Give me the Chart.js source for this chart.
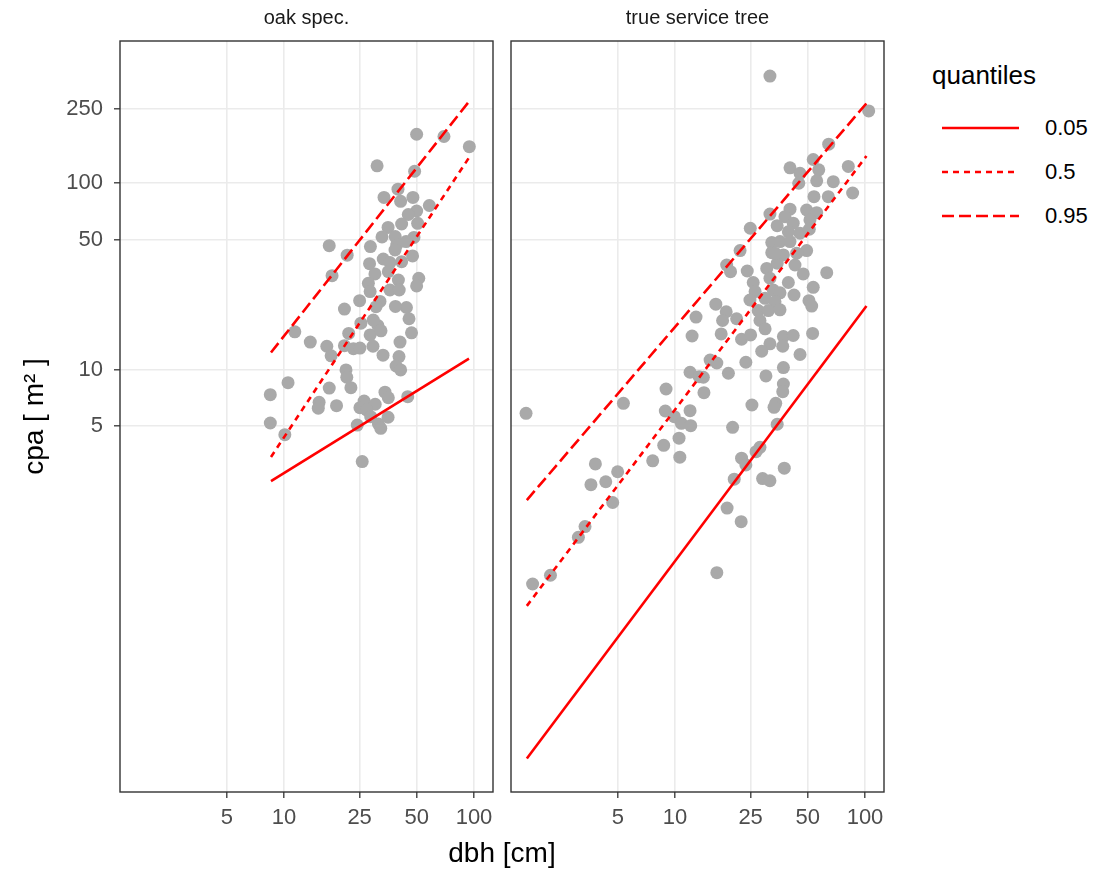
<!DOCTYPE html>
<html>
<head>
<meta charset="utf-8">
<script src="https://cdn.jsdelivr.net/npm/chart.js@4.4.1/dist/chart.umd.min.js"></script>
<style>
  html, body { margin: 0; padding: 0; background: #ffffff; }
  #wrap { position: relative; width: 1100px; height: 870px; overflow: hidden;
          font-family: 'Liberation Sans', Arial, sans-serif; background: #fff; }
  canvas { position: absolute; top: 0; }
  #xtitle { position: absolute; left: 120px; width: 764px; top: 834px; height: 38px;
            line-height: 38px; text-align: center; font-size: 28px; color: #000; }
  #legTitle { position: absolute; left: 932px; top: 58px; font-size: 26px; line-height: 34px; color: #000; }
  .legRow { position: absolute; left: 940px; width: 160px; height: 44px; }
  .legRow svg { position: absolute; left: 0; top: 0; }
  .legRow span { position: absolute; left: 105px; top: 0; line-height: 44px; font-size: 22px; color: #000; }
</style>
</head>
<body>
<div id="wrap">
  <canvas id="left" width="500" height="870" style="left:0px"></canvas>
  <canvas id="right" width="395" height="870" style="left:500px"></canvas>
  <div id="xtitle">dbh [cm]</div>
  <div id="legTitle">quantiles</div>
  <div id="legRows"></div>
</div>
<script>
// ---------- data ----------
const PANELS = ['oak spec.', 'true service tree'];
const X_TICKS = [5, 10, 25, 50, 100];
const Y_TICKS = [5, 10, 50, 100, 250];
const QUANTILES = ['0.05', '0.5', '0.95'];

// oak spec. observations: dbh [cm], cpa [m2]
const OAK_DBH = [49.9, 69.5, 94.5, 30.9, 48.7, 39.8, 33.6, 41.1, 47.7, 58.2,
  49.9, 45.1, 50.5, 41.6, 35.3, 32.8, 38.5, 48.3, 43.9, 39.2,
  17.3, 28.5, 21.5, 33.3, 47.5, 28.2, 36.1, 41.6, 38.4, 30.1,
  17.9, 51.2, 49.9, 27.8, 35.4, 40.0, 28.4, 36.1, 40.4, 25.0,
  20.8, 32.0, 44.1, 38.6, 30.5, 45.5, 46.9, 25.4, 31.2, 29.5,
  28.4, 32.4, 21.9, 11.4, 13.75, 16.8, 17.7, 20.8, 23.2, 25.1,
  29.4, 33.2, 40.8, 40.3, 38.9, 41.1, 21.2, 21.4, 22.5, 17.3,
  10.5, 8.47, 8.47, 10.1, 15.3, 15.15, 18.9, 34.0, 35.4, 44.8,
  26.4, 25.1, 30.2, 27.2, 28.6, 24.3, 31.4, 35.3, 32.3, 25.8];
const OAK_CPA = [183, 178, 157, 124, 116, 93, 84, 80, 84, 76,
  71, 68, 61, 60.5, 58, 51.6, 51.8, 51.3, 48.7, 46.7,
  46.3, 45.8, 41.2, 39.3, 40.8, 37.1, 37.6, 38.0, 43.9, 32.7,
  32.0, 31.0, 28.2, 29.1, 33.6, 30.3, 26.3, 26.8, 26.8, 23.5,
  21.2, 23.3, 21.6, 21.9, 21.8, 18.8, 15.8, 17.8, 17.3, 18.5,
  15.4, 16.2, 15.7, 16.0, 14.1, 13.4, 11.9, 13.5, 13.0, 13.1,
  13.4, 12.0, 14.1, 11.8, 10.5, 10.0, 10.0, 9.14, 8.04, 8.0,
  8.55, 7.37, 5.20, 4.50, 6.71, 6.24, 6.44, 7.6, 7.1, 7.19,
  6.82, 6.28, 6.55, 6.11, 5.62, 5.07, 5.14, 5.58, 4.87, 3.23];

// true service tree observations
const SERVICE_DBH = [1.644, 5.35, 8.97, 12.3, 12.9, 12.0, 13.4, 8.89, 9.92, 12.0,
  10.8, 12.1, 10.5, 8.72, 7.63, 10.6, 3.81, 4.99, 3.61, 4.32,
  4.70, 3.36, 3.10, 2.21, 1.78, 16.6, 31.6, 104.6, 64.4, 53.4,
  40.3, 45.5, 57.1, 55.7, 81.7, 68.1, 86.1, 44.8, 53.9, 64.1,
  31.6, 40.3, 49.3, 55.7, 37.9, 34.5, 41.9, 51.3, 24.9, 32.3,
  39.5, 45.5, 50.9, 35.7, 40.3, 22.0, 32.3, 49.3, 37.2, 43.7,
  18.7, 19.6, 24.0, 30.4, 34.5, 33.6, 42.8, 47.3, 62.9, 25.8,
  31.6, 39.5, 53.4, 26.4, 32.9, 35.7, 42.3, 24.8, 29.8, 33.6,
  50.7, 52.4, 16.4, 18.6, 17.8, 21.1, 27.4, 31.0, 35.7, 28.0,
  29.8, 17.5, 22.4, 25.0, 37.2, 41.9, 53.0, 31.6, 36.9, 28.6,
  45.5, 15.3, 16.6, 23.6, 37.2, 14.1, 19.1, 30.1, 37.2, 36.9,
  14.2, 25.4, 33.9, 33.2, 20.1, 34.5, 28.0, 26.7, 22.4, 23.6,
  37.6, 20.5, 28.9, 31.6, 18.8, 22.3];
const SERVICE_CPA = [5.86, 6.63, 7.91, 15.2, 19.2, 9.72, 9.21, 6.03, 5.62, 6.05,
  5.18, 5.03, 4.31, 3.95, 3.26, 3.41, 3.14, 2.85, 2.43, 2.52,
  1.95, 1.45, 1.27, 0.795, 0.714, 0.821, 375, 244, 162, 134,
  121, 113, 118, 103, 123, 102, 88.7, 100, 84.8, 84.8,
  68.4, 72.6, 71.9, 69.6, 66.2, 59.3, 61.1, 63.6, 57.4, 48.1,
  55.0, 54.0, 56.7, 48.7, 48.7, 43.6, 42.5, 43.6, 41.3, 42.2,
  36.5, 33.6, 33.9, 35.0, 37.3, 42.2, 36.5, 32.7, 33.2, 29.4,
  31.0, 29.4, 27.7, 26.3, 26.8, 25.9, 25.2, 23.7, 24.2, 23.2,
  23.5, 22.0, 22.5, 20.5, 18.4, 18.8, 20.8, 20.8, 21.0, 18.4,
  16.6, 15.6, 14.6, 15.4, 15.1, 15.3, 15.7, 13.8, 13.4, 12.6,
  12.1, 11.3, 10.9, 11.0, 10.3, 9.14, 9.6, 9.29, 8.41, 7.65,
  7.56, 6.49, 6.63, 6.31, 4.93, 5.12, 3.85, 3.65, 3.37, 3.10,
  2.98, 2.60, 2.62, 2.55, 1.82, 1.54];

// fitted quantile lines (endpoints at the data range of each panel)
const OAK_LINE_DBH = [8.54, 94.1];
const OAK_Q05 = [2.54, 11.5];
const OAK_Q50 = [3.42, 137];
const OAK_Q95 = [12.4, 274];
const SERVICE_LINE_DBH = [1.66, 101.8];
const SERVICE_Q05 = [0.083, 22.0];
const SERVICE_Q50 = [0.545, 140];
const SERVICE_Q95 = [2.01, 268];

// axis ranges (log scales, shared by both panels)
const X_MIN = 1.37, X_MAX = 125.9;
const Y_MIN = 0.0549, Y_MAX = 578;

// ---------- styles ----------
const RED = '#FF0000';
const DASHES = [[], [6, 5], [12, 5]];
const FONT = "'Liberation Sans', Arial, sans-serif";
Chart.defaults.font.family = FONT;

const panelBorder = {
  id: 'panelBorder',
  afterDraw(chart) {
    const { ctx, chartArea: a } = chart;
    ctx.save();
    ctx.strokeStyle = '#333333';
    ctx.lineWidth = 1.4;
    ctx.strokeRect(a.left, a.top, a.right - a.left, a.bottom - a.top);
    ctx.restore();
  }
};

function toXY(xs, ys) { return xs.map((x, i) => ({ x: x, y: ys[i] })); }

function makePanel(id, title, dbh, cpa, lineDbh, quants, showY) {
  const datasets = [{
    label: 'obs',
    data: toXY(dbh, cpa),
    backgroundColor: '#A9A9A9',
    borderWidth: 0,
    pointRadius: 6.5,
    pointHoverRadius: 6.5,
    order: 2
  }];
  quants.forEach((q, k) => {
    datasets.push({
      label: QUANTILES[k],
      data: toXY(lineDbh, q),
      showLine: true,
      borderColor: RED,
      backgroundColor: RED,
      borderWidth: 2.6,
      borderDash: DASHES[k],
      pointRadius: 0,
      order: 1
    });
  });
  return new Chart(document.getElementById(id), {
    type: 'scatter',
    data: { datasets },
    plugins: [panelBorder],
    options: {
      responsive: false,
      animation: false,
      devicePixelRatio: 1,
      layout: { padding: { left: 0, top: 0, bottom: 0, right: showY ? 7 : 11 } },
      plugins: {
        legend: { display: false },
        tooltip: { enabled: false },
        title: {
          display: true, text: title, fullSize: false,
          color: '#1A1A1A', font: { size: 20, weight: 'normal' },
          padding: { top: 6, bottom: 11 }
        }
      },
      scales: {
        x: {
          type: 'logarithmic', min: X_MIN, max: X_MAX,
          afterBuildTicks: s => { s.ticks = X_TICKS.map(v => ({ value: v })); },
          afterFit: s => { s.height = 78; },
          ticks: { autoSkip: false, maxRotation: 0, padding: 7, color: '#4D4D4D',
                   font: { size: 22 }, callback: v => String(v) },
          grid: { color: '#EBEBEB', lineWidth: 1.6, tickColor: '#333333', tickWidth: 1.3, tickLength: 6 },
          border: { display: false }
        },
        y: {
          type: 'logarithmic', min: Y_MIN, max: Y_MAX,
          afterBuildTicks: s => { s.ticks = Y_TICKS.map(v => ({ value: v })); },
          afterFit: s => { s.width = showY ? 120 : 11; },
          ticks: { display: showY, autoSkip: false, padding: 11, color: '#4D4D4D',
                   font: { size: 22 }, callback: v => String(v) },
          grid: { color: '#EBEBEB', lineWidth: 1.6, tickColor: '#333333', tickWidth: 1.3,
                  tickLength: 6, drawTicks: showY },
          border: { display: false },
          title: { display: showY, text: 'cpa [ m² ]', color: '#000000',
                   font: { size: 28 }, padding: { top: 18, bottom: 0 } }
        }
      }
    }
  });
}

makePanel('left', PANELS[0], OAK_DBH, OAK_CPA, OAK_LINE_DBH, [OAK_Q05, OAK_Q50, OAK_Q95], true);
makePanel('right', PANELS[1], SERVICE_DBH, SERVICE_CPA, SERVICE_LINE_DBH, [SERVICE_Q05, SERVICE_Q50, SERVICE_Q95], false);

// ---------- legend ----------
const rows = document.getElementById('legRows');
QUANTILES.forEach((q, k) => {
  const row = document.createElement('div');
  row.className = 'legRow';
  row.style.top = (106 + 44 * k) + 'px';
  const dash = DASHES[k].length ? ` stroke-dasharray="${DASHES[k].join(' ')}"` : '';
  row.innerHTML = `<svg width="82" height="44"><line x1="2" y1="22" x2="79" y2="22" stroke="${RED}" stroke-width="2.6"${dash}/></svg><span>${q}</span>`;
  rows.appendChild(row);
});
</script>
</body>
</html>
